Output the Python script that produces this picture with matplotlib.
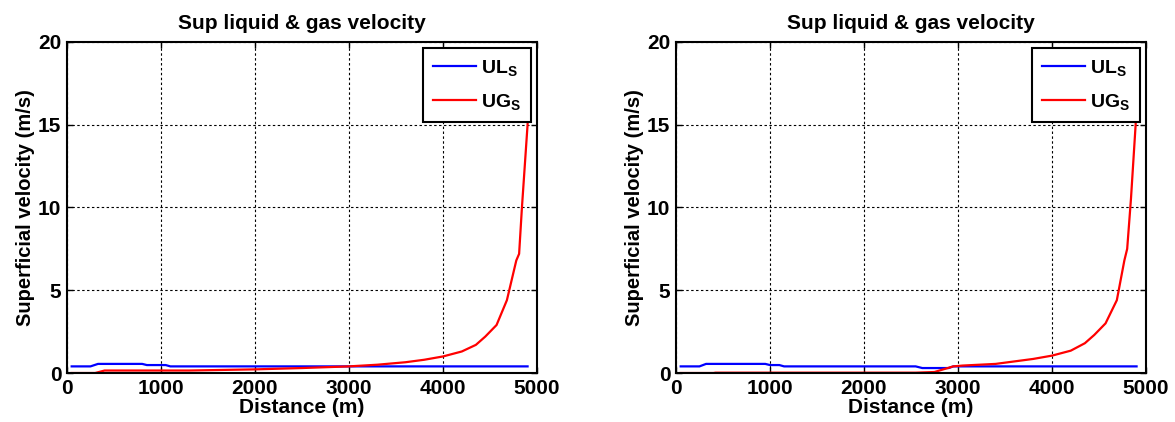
import numpy as np
import matplotlib
matplotlib.use("Agg")
import matplotlib.pyplot as plt

plt.rcParams['font.family'] = ['Liberation Sans', 'DejaVu Sans']
plt.rcParams['font.weight'] = 'bold'
plt.rcParams['mathtext.fontset'] = 'custom'
plt.rcParams['mathtext.bf'] = 'Liberation Sans:bold'
plt.rcParams['mathtext.rm'] = 'Liberation Sans:bold'

# left case
dist_l_liq = [50, 250, 330, 800, 850, 1050, 1100, 4900]
uls_left = [0.40, 0.40, 0.55, 0.55, 0.48, 0.48, 0.40, 0.40]
dist_l_gas = [50, 300, 400, 1300, 1600, 2000, 2500, 3000, 3300, 3600, 3800,
              4000, 4200, 4350, 4450, 4570, 4680, 4780, 4810, 4840, 4900, 4920]
ugs_left = [0.0, 0.0, 0.15, 0.15, 0.18, 0.22, 0.30, 0.40, 0.50, 0.65, 0.80,
            1.00, 1.30, 1.70, 2.20, 2.90, 4.40, 6.80, 7.20, 10.0, 15.0, 18.0]

# right case
dist_r_liq = [50, 250, 320, 950, 1000, 1100, 1150, 2550, 2620, 2900, 2950, 4900]
uls_right = [0.40, 0.40, 0.55, 0.55, 0.48, 0.48, 0.40, 0.40, 0.30, 0.30, 0.40, 0.40]
dist_r_gas = [50, 400, 420, 2550, 2750, 2950, 3050, 3400, 3600, 3800, 4000,
              4200, 4350, 4450, 4570, 4690, 4770, 4800, 4840, 4890, 4910]
ugs_right = [0.0, 0.0, 0.02, 0.02, 0.06, 0.40, 0.45, 0.55, 0.70, 0.85, 1.05,
             1.35, 1.80, 2.30, 3.00, 4.40, 6.80, 7.50, 10.5, 15.0, 18.0]

xticks = [0, 1000, 2000, 3000, 4000, 5000]
yticks = [0, 5, 10, 15, 20]

fig = plt.figure(figsize=(11.75, 4.22), dpi=100)
ax1 = fig.add_axes([0.0570, 0.1161, 0.4, 0.7844])
ax2 = fig.add_axes([0.5753, 0.1161, 0.4, 0.7844])

cases = [(ax1, dist_l_liq, uls_left, dist_l_gas, ugs_left),
         (ax2, dist_r_liq, uls_right, dist_r_gas, ugs_right)]

for ax, xl, yl, xg, yg in cases:
    ax.plot(xl, yl, color='#0000ff', lw=1.6, label=r'$\mathbf{UL_S}$')
    ax.plot(xg, yg, color='#ff0000', lw=1.6, label=r'$\mathbf{UG_S}$')
    ax.set_xlim(0, 5000)
    ax.set_ylim(0, 20)
    ax.set_xticks(xticks)
    ax.set_yticks(yticks)
    ax.grid(True, color='black', linestyle=(0, (2.2, 2.2)), lw=0.8)
    ax.tick_params(direction='in', top=True, right=True, labelsize=15,
                   length=4, width=1, pad=4)
    for lab in ax.get_xticklabels() + ax.get_yticklabels():
        lab.set_fontweight('bold')
    for sp in ax.spines.values():
        sp.set_linewidth(1.5)
    ax.set_title('Sup liquid & gas velocity', fontsize=15, fontweight='bold', pad=9)
    ax.set_xlabel('Distance (m)', fontsize=15, fontweight='bold', labelpad=0)
    ax.set_ylabel('Superficial velocity (m/s)', fontsize=14.5, fontweight='bold', labelpad=2)
    leg = ax.legend(loc='upper right', fontsize=14, fancybox=False, framealpha=1,
                    edgecolor='black', borderaxespad=0.3, handlelength=2.2,
                    handletextpad=0.3, borderpad=0.5, labelspacing=0.75)
    leg.get_frame().set_linewidth(1.5)

fig.savefig('out.png', dpi=100)
